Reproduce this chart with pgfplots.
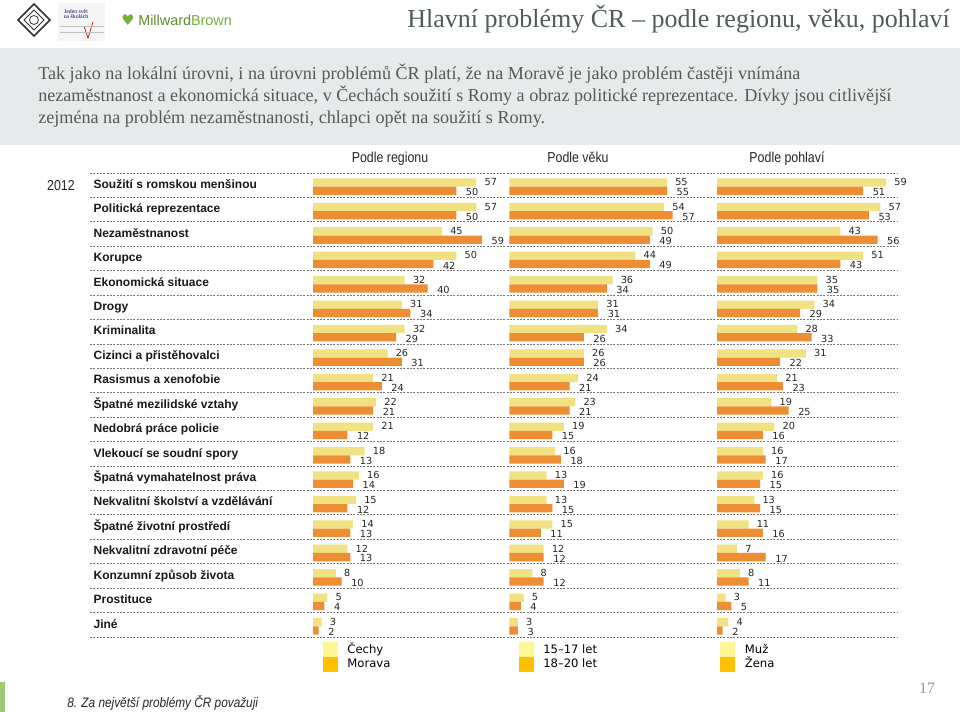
\documentclass[border=0pt]{standalone}
\usepackage{fontspec}
\setmainfont{Liberation Sans}
\usepackage{pgfplots}
\usepackage{pgfplotstable}
\pgfplotsset{compat=1.18}
\newfontfamily\serifT{Liberation Serif}
\newfontfamily\narrow[FakeStretch=0.86]{Liberation Sans}
\newfontfamily\dv{DejaVu Sans}
\definecolor{barL}{RGB}{240,225,130}
\definecolor{barD}{RGB}{238,142,52}
\definecolor{legL}{RGB}{255,246,150}
\definecolor{legD}{RGB}{255,192,0}
\definecolor{band}{RGB}{230,234,234}
\definecolor{titlegray}{RGB}{80,92,92}
\definecolor{bodygray}{RGB}{88,88,88}
\definecolor{mbgreen}{RGB}{120,176,60}
\definecolor{gridgray}{RGB}{120,120,120}

\pgfplotstableread{
y a b
0 57 50
1 57 50
2 45 59
3 50 42
4 32 40
5 31 34
6 32 29
7 26 31
8 21 24
9 22 21
10 21 12
11 18 13
12 16 14
13 15 12
14 14 13
15 12 13
16 8 10
17 5 4
18 3 2
}\region
\pgfplotstableread{
y a b
0 55 55
1 54 57
2 50 49
3 44 49
4 36 34
5 31 31
6 34 26
7 26 26
8 24 21
9 23 21
10 19 15
11 16 18
12 13 19
13 13 15
14 15 11
15 12 12
16 8 12
17 5 4
18 3 3
}\age
\pgfplotstableread{
y a b
0 59 51
1 57 53
2 43 56
3 51 43
4 35 35
5 34 29
6 28 33
7 31 22
8 21 23
9 19 25
10 20 16
11 16 17
12 16 15
13 13 15
14 11 16
15 7 17
16 8 11
17 3 5
18 4 2
}\gender

\pgfplotsset{
  legLs/.style={legend image code/.code={\fill[legL] (0pt,-5.3pt) rectangle (10.5pt,5.3pt);}},
  legDs/.style={legend image code/.code={\fill[legD] (0pt,-5.3pt) rectangle (10.5pt,5.3pt);}},
  panel/.style={
    scale only axis, width=129pt, height=348pt,
    xmin=0, xmax=60, ymin=-0.5, ymax=18.5, y dir=reverse,
    hide axis, clip=false, anchor=north west,
    xbar, bar width=6.2pt,
    /pgf/number format/assume math mode=true,
    nodes near coords,
    nodes near coords style={font=\dv\fontsize{7.3}{8}\selectfont, text=black!85, inner sep=0pt, anchor=west},
    legend style={at={(0.056,-0.0101)}, anchor=north west, draw=none, fill=none,
      legend columns=1, column sep=7.5pt, row sep=0pt, inner sep=0pt,
      nodes={inner sep=0pt, text height=8.3pt, text depth=2.7pt, font=\dv\fontsize{8.7}{10}\selectfont}},
    legend cell align=left,
  },
  lightbar/.style={fill=barL, draw=none, bar shift=2pt, forget plot,
    every node near coord/.append style={xshift=6pt, yshift=0.3pt}},
  darkbar/.style={fill=barD, draw=none, bar shift=-4.2pt, forget plot,
    every node near coord/.append style={xshift=7pt, yshift=-1pt}},
}

\begin{document}
\begin{tikzpicture}
\fill[white] (0,0) rectangle (720pt,534pt);
\begin{scope}[shift={(0pt,534pt)}, x=0.75pt, y=-0.75pt]
  % header band
  \fill[band] (0,48) rectangle (960,145);
  % title
  \node[anchor=east, inner sep=0pt, text=titlegray, font=\serifT\fontsize{19.5}{22}\selectfont] at (950,19) {Hlavní problémy ČR – podle regionu, věku, pohlaví};
  % body text
  \begin{scope}[every node/.style={anchor=base west, inner sep=0pt, text=bodygray, font=\serifT\fontsize{13.6}{16}\selectfont}]
    \node at (38,80) {Tak jako na lokální úrovni, i na úrovni problémů ČR platí, že na Moravě je jako problém častěji vnímána};
    \node at (38,102) {nezaměstnanost a ekonomická situace, v Čechách soužití s Romy a obraz politické reprezentace. Dívky jsou citlivější};
    \node at (38,124) {zejména na problém nezaměstnanosti, chlapci opět na soužití s Romy.};
  \end{scope}
  % logos
  \draw[line width=1.3pt, black!80, fill=white] (34,4) -- (50,20) -- (34,36) -- (18,20) -- cycle;
  \draw[line width=0.6pt, black!80] (34,10) -- (44,20) -- (34,30) -- (24,20) -- cycle;
  \draw[line width=0.6pt, black!80] (34,20) circle (4.5);
  \fill[black!4] (58,3) rectangle (105,41);
  \node[inner sep=0pt, text=blue!40!black, font=\serifT\fontsize{4.3}{5}\selectfont, align=center] at (76,14) {Jeden svět\\[-1pt]na školách};
  \draw[red!80!black, line width=0.5pt] (84,26) -- (88,38) -- (93,22);
  \draw[black!25, line width=0.3pt] (60,26) -- (104,26) (60,32) -- (104,32);
  \node[inner sep=0pt, text=mbgreen, font=\dv\fontsize{11}{12}\selectfont] at (128,20) {♥};
  \node[anchor=west, inner sep=0pt, font=\fontsize{10.8}{12}\selectfont] at (138,20) {\textcolor{mbgreen!80!black}{Millward}\textcolor{mbgreen}{Brown}};
  % column headers
  \begin{scope}[every node/.style={anchor=base, inner sep=0pt, text=black!85, font=\narrow\fontsize{10.8}{12}\selectfont}]
    \node at (390,163) {Podle regionu};
    \node at (578,163) {Podle věku};
    \node at (787,163) {Podle pohlaví};
  \end{scope}
  \node[anchor=base, inner sep=0pt, text=black!85, font=\narrow\fontsize{10.8}{12}\selectfont] at (61,191) {2012};
  % footnote
  \node[anchor=base west, inner sep=0pt, text=black!85, font=\narrow\itshape\fontsize{10.3}{12}\selectfont] at (67,708) {8. Za největší problémy ČR považuji};
  \node[inner sep=0pt, text=gray!80, font=\serifT\fontsize{12}{14}\selectfont] at (927,688) {17};
  \fill[mbgreen!70] (0,682) rectangle (5,712);
\end{scope}

% background axis: separators and category labels
\begin{axis}[scale only axis, width=606pt, height=348pt,
  at={(67.5pt,404.25pt)}, anchor=north west,
  xmin=0, xmax=1, ymin=-0.5, ymax=18.5, y dir=reverse,
  axis line style={draw=none}, xtick=\empty,
  ytick={0,...,18},
  yticklabels={Soužití s romskou menšinou, Politická reprezentace, Nezaměstnanost, Korupce, Ekonomická situace, Drogy, Kriminalita, Cizinci a přistěhovalci, Rasismus a xenofobie, Špatné mezilidské vztahy, Nedobrá práce policie, Vlekoucí se soudní spory, Špatná vymahatelnost práva, Nekvalitní školství a vzdělávání, Špatné životní prostředí, Nekvalitní zdravotní péče, Konzumní způsob života, Prostituce, Jiné},
  minor ytick={-0.5,0.5,...,18.5},
  yminorgrids, ymajorgrids=false,
  major tick length=0pt, minor tick length=0pt,
  minor grid style={dash pattern=on 1.6pt off 0.9pt, line width=0.6pt, gridgray},
  yticklabel style={anchor=west, inner xsep=2.5pt, text height=6.8pt, text depth=1.9pt, text=black!90, font=\bfseries\fontsize{9}{10}\selectfont},
]
\addplot[draw=none] coordinates {(0,0)};
\end{axis}

% panel 1: region
\begin{axis}[panel, at={(234.75pt,404.25pt)}]
\addplot[lightbar] table[x=a, y=y] {\region};
\addplot[darkbar] table[x=b, y=y] {\region};
\addlegendimage{legLs}\addlegendentry{Čechy}
\addlegendimage{legDs}\addlegendentry{Morava}
\end{axis}

% panel 2: age
\begin{axis}[panel, at={(382pt,404.25pt)}, legend style={at={(0.053,-0.0101)}}]
\addplot[lightbar] table[x=a, y=y] {\age};
\addplot[darkbar] table[x=b, y=y] {\age};
\addlegendimage{legLs}\addlegendentry{15–17 let}
\addlegendimage{legDs}\addlegendentry{18–20 let}
\end{axis}

% panel 3: gender
\begin{axis}[panel, at={(537.75pt,404.25pt)}, legend style={at={(0.018,-0.0101)}}]
\addplot[lightbar] table[x=a, y=y] {\gender};
\addplot[darkbar] table[x=b, y=y] {\gender};
\addlegendimage{legLs}\addlegendentry{Muž}
\addlegendimage{legDs}\addlegendentry{Žena}
\end{axis}
\end{tikzpicture}
\end{document}
